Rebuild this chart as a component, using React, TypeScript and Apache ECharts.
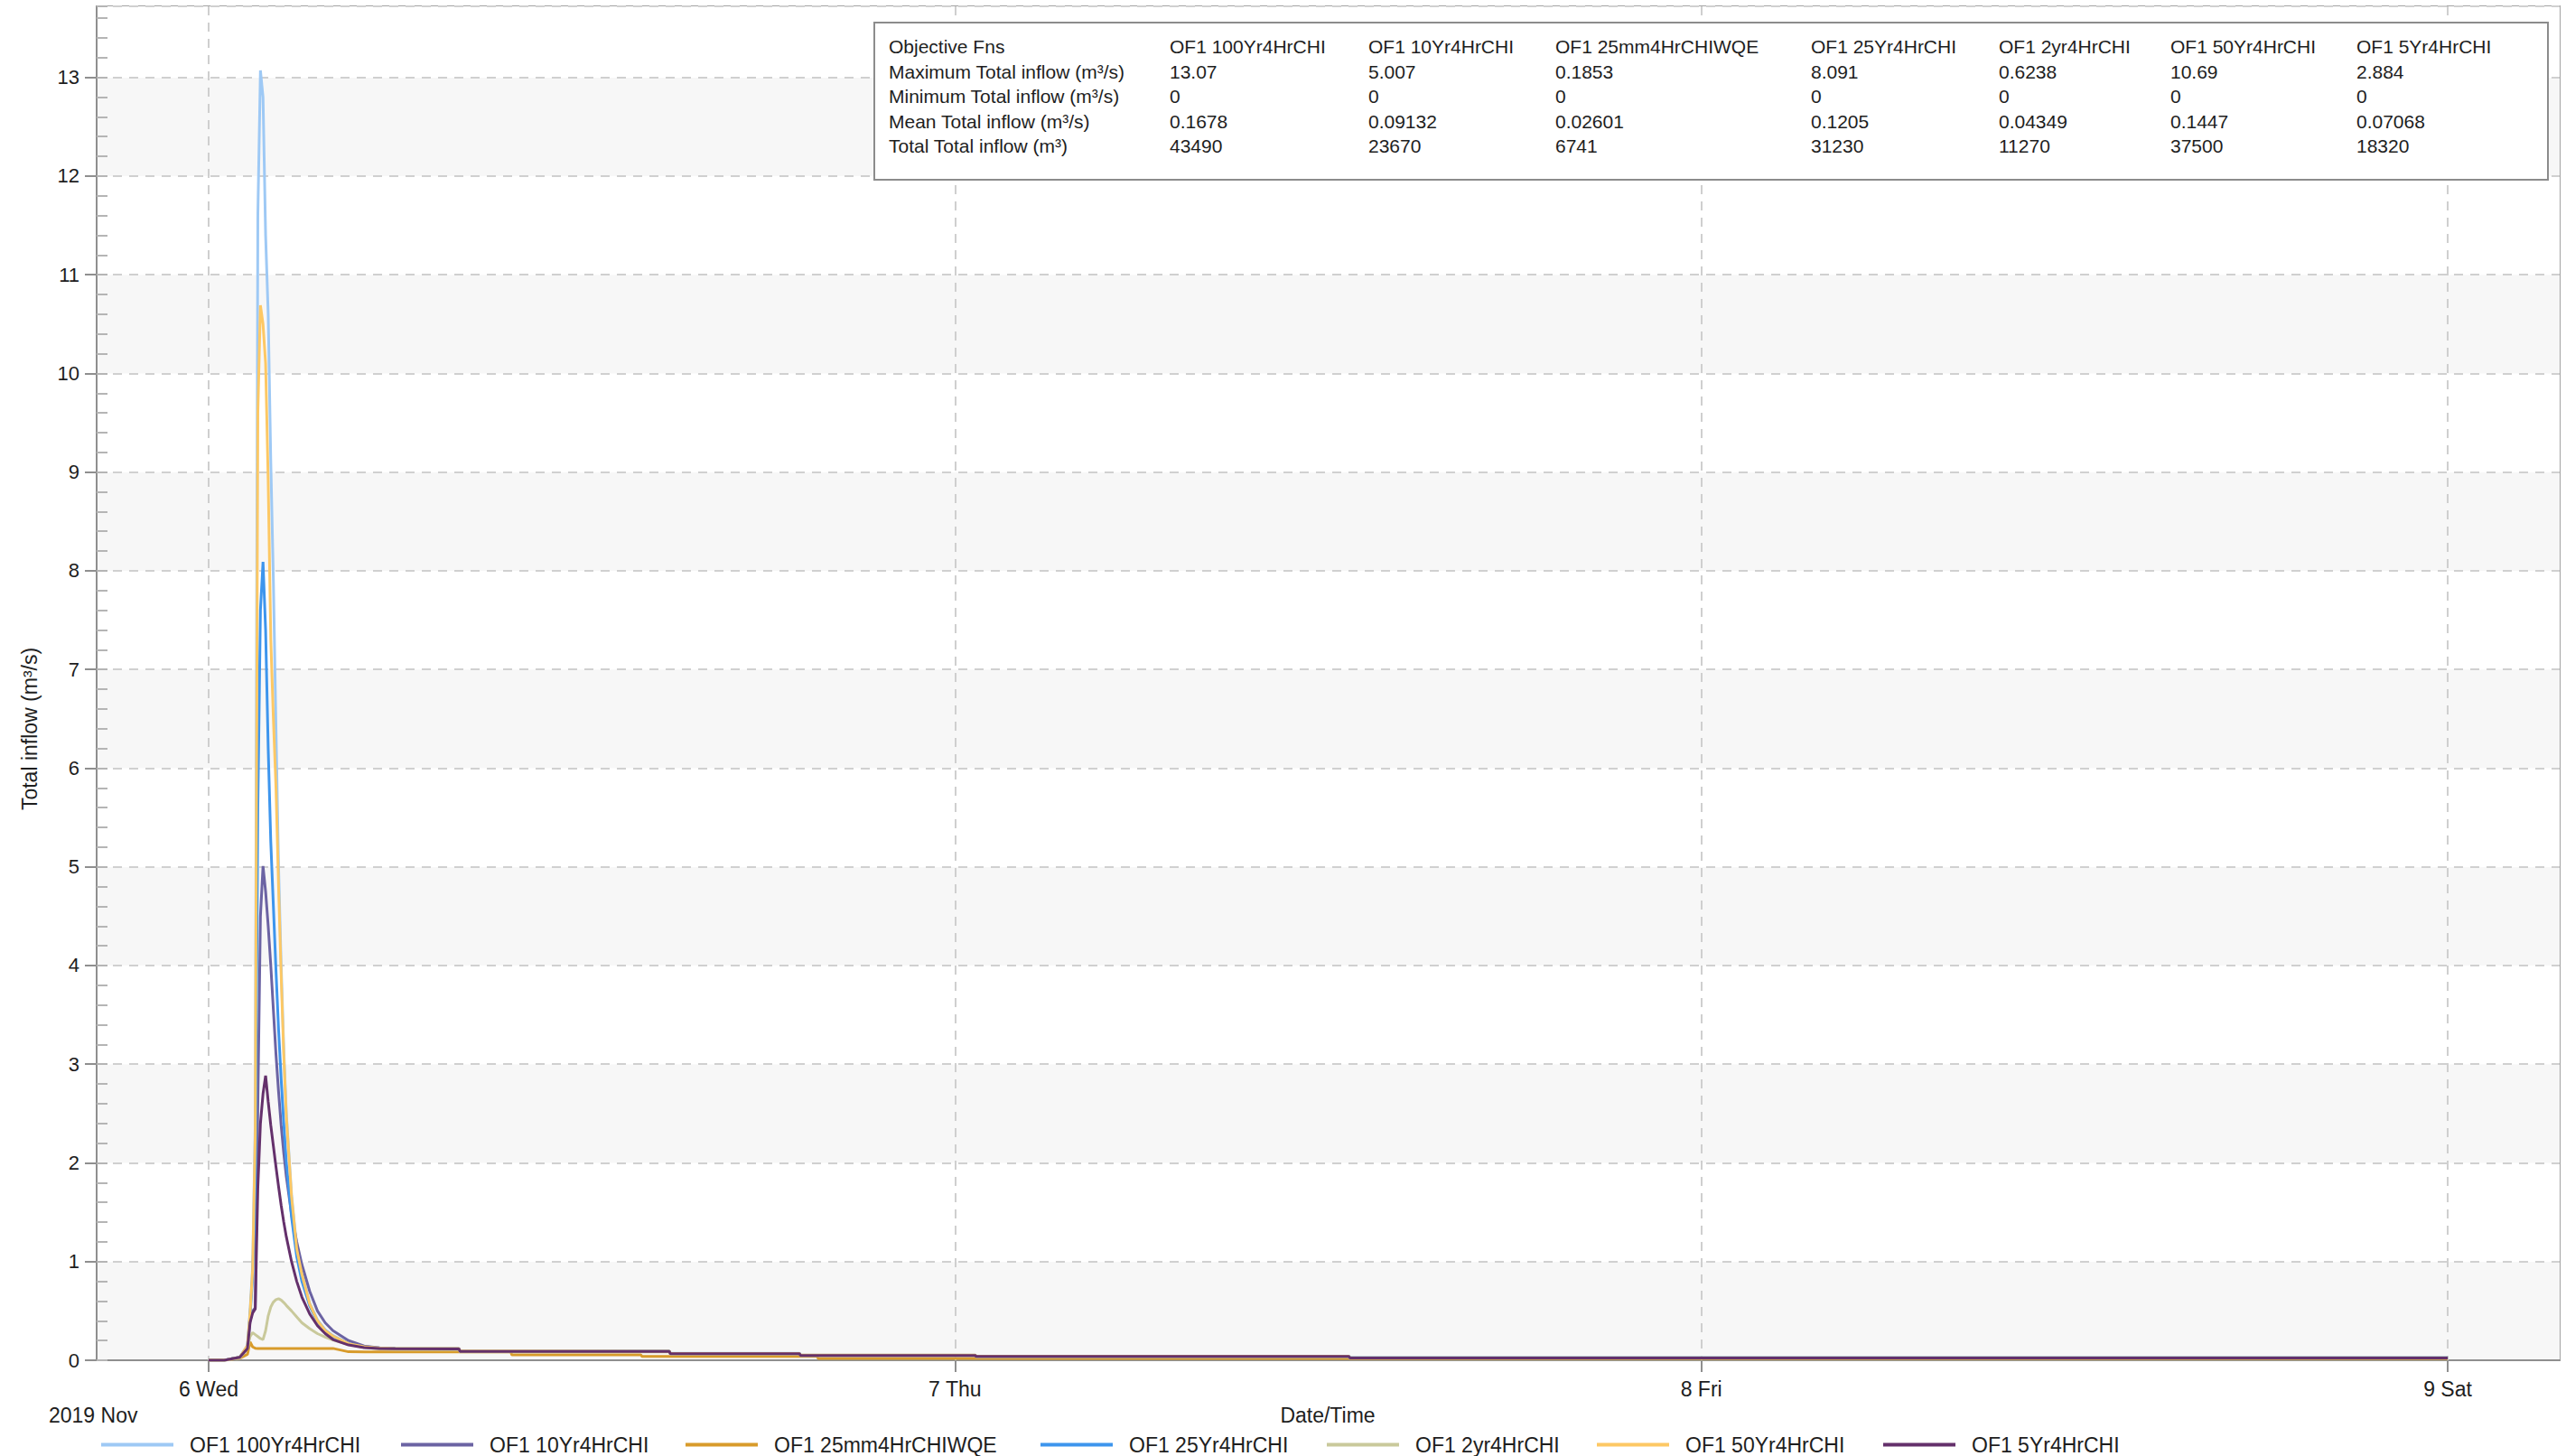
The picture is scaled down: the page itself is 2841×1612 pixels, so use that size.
import React, { useEffect, useRef } from "react";
import * as echarts from "echarts";

// Time in minutes from 2019-11-06 00:00
const MINUTES = [0, 30, 60, 75, 80, 85, 90, 95, 100, 105, 110, 115, 120, 125, 130, 135, 140, 145, 150, 160, 170, 180, 195, 210, 225, 240, 270, 300, 330, 360, 483, 485, 583, 585, 834, 836, 889, 891, 1140, 1142, 1174, 1176, 1479, 1481, 2200, 2202, 4320];

const Q_100YR = [0, 0, 0.03, 0.15, 0.5, 0.95, 2.4, 11.6, 13.07, 12.8, 11.4, 10.6, 9.1, 7.9, 6.4, 5.0, 4.0, 3.15, 2.5, 1.68, 1.15, 0.88, 0.58, 0.41, 0.31, 0.25, 0.17, 0.14, 0.125,
  0.121, 0.119, 0.094, 0.094, 0.094, 0.093, 0.093, 0.093, 0.07, 0.07, 0.053, 0.053, 0.053, 0.053, 0.042, 0.042, 0.027, 0.027];
const Q_10YR = [0, 0, 0.03, 0.12, 0.4, 0.5, 0.53, 2.6, 4.5, 5.007, 4.75, 4.4, 4.0, 3.55, 3.1, 2.72, 2.38, 2.1, 1.86, 1.48, 1.2, 0.97, 0.7, 0.5, 0.38, 0.3, 0.2, 0.145, 0.125,
  0.118, 0.116, 0.091, 0.091, 0.091, 0.09, 0.09, 0.09, 0.067, 0.067, 0.05, 0.05, 0.05, 0.05, 0.039, 0.039, 0.024, 0.024];
const Q_25MM = [0, 0, 0.02, 0.06, 0.1853, 0.135, 0.122, 0.12, 0.12, 0.12, 0.12, 0.12, 0.12, 0.12, 0.12, 0.12, 0.12, 0.12, 0.12, 0.12, 0.12, 0.12, 0.12, 0.12, 0.12, 0.12, 0.086, 0.085, 0.085,
  0.085, 0.085, 0.085, 0.085, 0.055, 0.055, 0.04, 0.04, 0.04, 0.04, 0.04, 0.04, 0.019, 0.019, 0.019, 0.019, 0.016, 0.016];
const Q_25YR = [0, 0, 0.03, 0.14, 0.45, 0.85, 1.7, 5.6, 7.6, 8.091, 7.4, 6.2, 5.25, 4.6, 3.95, 3.35, 2.85, 2.4, 2.0, 1.45, 1.05, 0.8, 0.55, 0.39, 0.3, 0.24, 0.165, 0.135, 0.122,
  0.119, 0.117, 0.092, 0.092, 0.092, 0.091, 0.091, 0.091, 0.068, 0.068, 0.051, 0.051, 0.051, 0.051, 0.04, 0.04, 0.025, 0.025];
const Q_2YR = [0, 0, 0.02, 0.12, 0.24, 0.28, 0.26, 0.24, 0.22, 0.21, 0.3, 0.45, 0.54, 0.59, 0.615, 0.6238, 0.61, 0.585, 0.555, 0.5, 0.44, 0.38, 0.32, 0.27, 0.235, 0.205, 0.16, 0.13, 0.115,
  0.11, 0.108, 0.085, 0.085, 0.085, 0.084, 0.084, 0.084, 0.062, 0.062, 0.045, 0.045, 0.045, 0.045, 0.035, 0.035, 0.02, 0.02];
const Q_50YR = [0, 0, 0.03, 0.15, 0.48, 0.92, 2.3, 9.6, 10.69, 10.5, 10.1, 8.9, 7.3, 6.5, 5.8, 4.8, 3.9, 3.1, 2.47, 1.66, 1.13, 0.87, 0.57, 0.4, 0.3, 0.245, 0.168, 0.138, 0.124,
  0.12, 0.118, 0.093, 0.093, 0.093, 0.092, 0.092, 0.092, 0.069, 0.069, 0.052, 0.052, 0.052, 0.052, 0.041, 0.041, 0.026, 0.026];
const Q_5YR = [0, 0, 0.03, 0.12, 0.38, 0.48, 0.52, 1.75, 2.4, 2.7, 2.884, 2.62, 2.38, 2.17, 1.96, 1.76, 1.57, 1.4, 1.25, 1.0, 0.8, 0.64, 0.47, 0.35, 0.27, 0.21, 0.155, 0.128, 0.12,
  0.117, 0.115, 0.09, 0.09, 0.09, 0.089, 0.089, 0.089, 0.066, 0.066, 0.049, 0.049, 0.049, 0.049, 0.038, 0.038, 0.023, 0.023];

const SERIES_NAMES = ["OF1 100Yr4HrCHI", "OF1 10Yr4HrCHI", "OF1 25mm4HrCHIWQE", "OF1 25Yr4HrCHI", "OF1 2yr4HrCHI", "OF1 50Yr4HrCHI", "OF1 5Yr4HrCHI"];
const SERIES_VALUES = [Q_100YR, Q_10YR, Q_25MM, Q_25YR, Q_2YR, Q_50YR, Q_5YR];
const SERIES_COLORS = ["#9ec9f5", "#6b63a3", "#d89b2b", "#3d95ed", "#c9c99b", "#fdc864", "#64306b"];

const DAY_TICKS = [0, 1440, 2880, 4320];
const DAY_LABELS = ["6 Wed", "7 Thu", "8 Fri", "9 Sat"];

const TABLE_ROW_LABELS = ["Maximum Total inflow (m³/s)", "Minimum Total inflow (m³/s)", "Mean Total inflow (m³/s)", "Total Total inflow (m³)"];
const STAT_MAX = ["13.07", "5.007", "0.1853", "8.091", "0.6238", "10.69", "2.884"];
const STAT_MIN = ["0", "0", "0", "0", "0", "0", "0"];
const STAT_MEAN = ["0.1678", "0.09132", "0.02601", "0.1205", "0.04349", "0.1447", "0.07068"];
const STAT_TOTAL = ["43490", "23670", "6741", "31230", "11270", "37500", "18320"];

const FONT = "'Liberation Sans', Arial, sans-serif";

export default function App() {
  const ref = useRef<HTMLDivElement>(null);

  useEffect(() => {
    document.body.style.margin = "0";
    if (!ref.current) return;
    const chart = echarts.init(ref.current, null, { renderer: "svg" });

    const legendLeft = [112, 444, 759, 1152, 1469, 1768, 2085];
    const colX = [984, 1295, 1515, 1722, 2005, 2213, 2403, 2609];
    const rowY = [51, 79, 106, 134, 161];

    const txt = (text: string, x: number, y: number, size: number, align = "left", rotation = 0) => ({
      type: "text",
      x,
      y,
      rotation,
      silent: true,
      z: 100,
      style: {
        text,
        fontSize: size,
        fontFamily: FONT,
        fill: "#1e1e1e",
        align,
        textAlign: align,
        verticalAlign: "middle",
        textVerticalAlign: "middle",
      },
    });

    const tableTexts: any[] = [];
    tableTexts.push(txt("Objective Fns", colX[0], rowY[0], 21));
    SERIES_NAMES.forEach((n, i) => tableTexts.push(txt(n, colX[i + 1], rowY[0], 21)));
    const rows = [STAT_MAX, STAT_MIN, STAT_MEAN, STAT_TOTAL];
    rows.forEach((r, ri) => {
      tableTexts.push(txt(TABLE_ROW_LABELS[ri], colX[0], rowY[ri + 1], 21));
      r.forEach((v, ci) => tableTexts.push(txt(v, colX[ci + 1], rowY[ri + 1], 21)));
    });

    const dash = [10, 8];
    const axisGray = "#8f8f8f";

    const option: any = {
      animation: false,
      backgroundColor: "#ffffff",
      textStyle: { fontFamily: FONT },
      grid: [
        { left: 107, right: 7, top: 7, bottom: 106, show: true, borderColor: "#a3a3a3", borderWidth: 2, backgroundColor: "transparent" },
        { left: 231, right: 131, top: 7, bottom: 106, show: false },
      ],
      xAxis: [
        {
          type: "value",
          gridIndex: 0,
          min: -216,
          max: 4536,
          axisLine: { show: true, onZero: false, lineStyle: { color: axisGray, width: 2 } },
          axisTick: { show: true, customValues: DAY_TICKS, length: 13, lineStyle: { color: axisGray, width: 2 } },
          axisLabel: {
            show: true,
            customValues: DAY_TICKS,
            margin: 20,
            fontSize: 23,
            color: "#1e1e1e",
            fontFamily: FONT,
            formatter: (v: number) => {
              const i = DAY_TICKS.indexOf(Math.round(v));
              return i >= 0 ? DAY_LABELS[i] : "";
            },
          },
          splitLine: { show: false },
        },
        {
          type: "value",
          gridIndex: 1,
          min: 0,
          max: 4320,
          interval: 1440,
          z: 1,
          axisLine: { show: false, onZero: false },
          axisTick: { show: false },
          axisLabel: { show: false },
          splitLine: { show: true, lineStyle: { color: "#cfcfcf", width: 2, type: dash } },
        },
      ],
      yAxis: [
        {
          type: "value",
          gridIndex: 0,
          min: 0,
          max: 13.72,
          interval: 1,
          position: "left",
          axisLine: { show: true, onZero: false, lineStyle: { color: axisGray, width: 2 } },
          axisTick: { show: true, length: 13, lineStyle: { color: axisGray, width: 2 } },
          axisLabel: { fontSize: 22, color: "#1e1e1e", margin: 19, showMaxLabel: false, fontFamily: FONT },
          splitLine: { show: true, lineStyle: { color: "#d0d0d0", width: 2, type: dash } },
          splitArea: { show: true, areaStyle: { color: ["#f7f7f7", "#ffffff"] } },
        },
        {
          type: "value",
          gridIndex: 0,
          min: 0,
          max: 13.72,
          interval: 0.2,
          position: "left",
          offset: 0,
          axisLine: { show: false, onZero: false },
          axisTick: { show: true, inside: true, length: 12, lineStyle: { color: "#b5b5b5", width: 2 } },
          axisLabel: { show: false },
          splitLine: { show: false },
        },
        {
          type: "value",
          gridIndex: 1,
          min: 0,
          max: 13.72,
          axisLine: { show: false, onZero: false },
          axisTick: { show: false },
          axisLabel: { show: false },
          splitLine: { show: false },
          splitArea: { show: false },
        },
      ],
      legend: SERIES_NAMES.map((name, i) => ({
        data: [name],
        left: legendLeft[i],
        top: 1588,
        padding: 0,
        icon: "rect",
        itemWidth: 80,
        itemHeight: 4,
        selectedMode: false,
        textStyle: { fontSize: 23, color: "#1e1e1e", fontFamily: FONT, padding: [0, 0, 0, 13] },
      })),
      graphic: [
        {
          type: "rect",
          shape: { x: 968, y: 25, width: 1853, height: 174 },
          style: { fill: "#ffffff", stroke: "#8c8c8c", lineWidth: 2 },
          z: 99,
          silent: true,
        },
        ...tableTexts,
        txt("Total inflow (m³/s)", 33, 807, 23, "center", Math.PI / 2),
        txt("Date/Time", 1470, 1567, 23, "center"),
        txt("2019 Nov", 54, 1567, 23, "left"),
      ],
      series: SERIES_NAMES.map((name, i) => ({
        type: "line",
        name,
        xAxisIndex: 0,
        yAxisIndex: 0,
        data: MINUTES.map((m, k) => [m, SERIES_VALUES[i][k]]),
        showSymbol: false,
        symbol: "none",
        lineStyle: { width: 3, color: SERIES_COLORS[i] },
        itemStyle: { color: SERIES_COLORS[i] },
        color: SERIES_COLORS[i],
      })),
    };

    chart.setOption(option);
    return () => chart.dispose();
  }, []);

  return <div ref={ref} style={{ width: 2841, height: 1612, overflow: "hidden" }} />;
}
